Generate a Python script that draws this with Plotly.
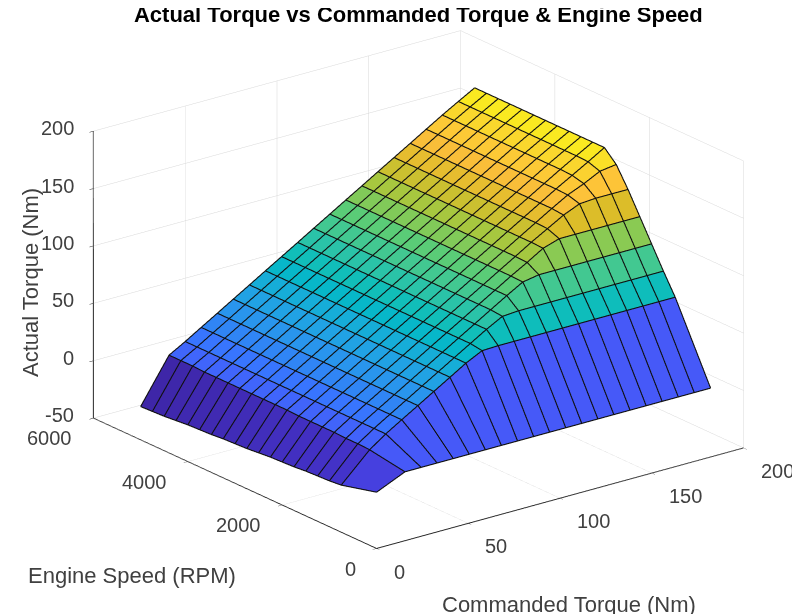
import plotly.graph_objects as go

commanded_torque = [0, 15.5, 24.3, 33, 41.8, 50.5, 59.3, 68, 76.8, 85.6, 94.3, 103.1, 111.8, 120.6, 129.3, 138.1, 146.9, 155.6, 164.4, 173.1, 182]
engine_speed = [0, 750, 1000, 1250, 1500, 1750, 2000, 2250, 2500, 2750, 3000, 3250, 3500, 3750, 4000, 4250, 4500, 4750, 5000]

actual_torque = [
    [-1, 10, 10, 10, 10, 10, 10, 10, 10, 10, 10, 10, 10, 10, 10, 10, 10, 10, 10, 10, 10],
    [-9, 15, 25, 33.5, 42, 50.5, 59, 67.5, 74.5, 75, 75, 75, 75, 75, 75, 75, 75, 75, 75, 75, 75],
    [-10, 15.5, 25, 33.5, 42, 50.5, 59, 67.5, 76, 84.5, 92, 93, 93, 93, 93, 93, 93, 93, 93, 93, 93],
    [-10.5, 15.5, 25, 33.5, 42, 50.5, 59, 67.5, 76, 84.5, 93, 101.5, 109.5, 112, 112, 112, 112, 112, 112, 112, 112],
    [-11, 16, 25, 33.5, 42, 50.5, 59, 67.5, 76, 84.5, 93, 101.5, 110, 118, 126.5, 131, 131, 131, 131, 131, 131],
    [-12, 16, 25, 33.5, 42, 50.5, 59, 67.5, 76, 84.5, 93, 101.5, 110, 118.5, 127, 135, 143, 149, 150, 150, 150],
    [-12.5, 16, 25, 33.5, 42, 50.5, 59, 67.5, 76, 84.5, 93, 101.5, 110, 118.5, 127, 135.5, 144, 152, 158, 165, 167],
    [-13, 16, 25, 33.5, 42, 50.5, 59, 67.5, 76, 84.5, 93, 101.5, 110, 118.5, 127, 135.5, 144, 152.5, 160.5, 168.5, 177],
    [-14, 16.5, 25, 33.5, 42, 50.5, 59, 67.5, 76, 84.5, 93, 101.5, 110, 118.5, 127, 135.5, 144, 152.5, 161, 169, 177],
    [-15, 16.5, 25, 33.5, 42, 50.5, 59, 67.5, 76, 84.5, 93, 101.5, 110, 118.5, 127, 135.5, 144, 152.5, 161, 169, 177],
    [-15.5, 16.5, 25, 33.5, 42, 50.5, 59, 67.5, 76, 84.5, 93, 101.5, 110, 118.5, 127, 135.5, 144, 152.5, 161, 169, 177],
    [-16, 16.5, 25, 33.5, 42, 50.5, 59, 67.5, 76, 84.5, 93, 101.5, 110, 118.5, 127, 135.5, 144, 152.5, 161, 169, 177],
    [-17, 16.5, 25, 33.5, 42, 50.5, 59, 67.5, 76, 84.5, 93, 101.5, 110, 118.5, 127, 135.5, 144, 152.5, 161, 169, 177],
    [-17.5, 16.5, 25, 33.5, 42, 50.5, 59, 67.5, 76, 84.5, 93, 101.5, 110, 118.5, 127, 135.5, 144, 152.5, 161, 169, 177],
    [-18, 16.5, 25, 33.5, 42, 50.5, 59, 67.5, 76, 84.5, 93, 101.5, 110, 118.5, 127, 135.5, 144, 152.5, 161, 169, 177],
    [-19, 16.5, 25, 33.5, 42, 50.5, 59, 67.5, 76, 84.5, 93, 101.5, 110, 118.5, 127, 135.5, 144, 152.5, 161, 169, 177],
    [-20, 17, 25, 33.5, 42, 50.5, 59, 67.5, 76, 84.5, 93, 101.5, 110, 118.5, 127, 135.5, 144, 152.5, 161, 169, 177],
    [-20.5, 17, 25, 33.5, 42, 50.5, 59, 67.5, 76, 84.5, 93, 101.5, 110, 118.5, 127, 135.5, 144, 152.5, 161, 169, 177],
    [-21, 17, 25, 33.5, 42, 50.5, 59, 67.5, 76, 84.5, 93, 101.5, 110, 118.5, 127, 135.5, 144, 152.5, 161, 169, 177],
]

x_ticks = [0, 50, 100, 150, 200]
y_ticks = [0, 2000, 4000, 6000]
z_ticks = [-50, 0, 50, 100, 150, 200]

parula = [
    (0.2422, 0.1504, 0.6603), (0.2706, 0.2147, 0.8364), (0.2795, 0.3447, 0.9717), (0.2206, 0.4603, 0.9973),
    (0.1687, 0.5703, 0.9359), (0.1113, 0.6635, 0.8763), (0.0067, 0.7312, 0.7660), (0.1717, 0.7670, 0.6554),
    (0.3406, 0.8008, 0.4789), (0.6174, 0.7876, 0.2612), (0.8634, 0.7406, 0.1596), (0.9956, 0.7434, 0.2371),
    (0.9786, 0.8422, 0.1766), (0.9769, 0.9839, 0.0805),
]
colorscale = [[i / (len(parula) - 1), "rgb(%d,%d,%d)" % tuple(round(c * 255) for c in p)] for i, p in enumerate(parula)]

view = (-0.57, -0.739, 0.3545)
zoom = 1.258
shift = (-0.045, -0.0022, -0.0775)
aspect = dict(x=1.51, y=1.51, z=1.0)

# Pushing the faces back along the sight line keeps the mesh lines from z-fighting without moving anything on screen.
depth = 0.012
push_x = -view[0] * depth * 200 / aspect["x"]
push_y = -view[1] * depth * 6000 / aspect["y"]
push_z = -view[2] * depth * 250 / aspect["z"]

nx, ny = len(commanded_torque), len(engine_speed)
vx, vy, vz = [], [], []
for j in range(ny):
    for i in range(nx):
        vx.append(commanded_torque[i] + push_x)
        vy.append(engine_speed[j] + push_y)
        vz.append(actual_torque[j][i] + push_z)

ti, tj, tk, cell_value = [], [], [], []
for j in range(ny - 1):
    for i in range(nx - 1):
        a = j * nx + i
        b = a + 1
        c = a + nx
        d = c + 1
        ti += [a, a]; tj += [b, d]; tk += [d, c]
        cell_value += [actual_torque[j][i]] * 2

all_z = [v for row in actual_torque for v in row]
fig = go.Figure()
fig.add_trace(go.Mesh3d(
    x=vx, y=vy, z=vz, i=ti, j=tj, k=tk,
    intensity=cell_value, intensitymode="cell", colorscale=colorscale,
    cmin=min(all_z), cmax=max(all_z), showscale=False, flatshading=True,
    lighting=dict(ambient=1, diffuse=0, specular=0, roughness=1, fresnel=0),
    hoverinfo="skip",
))

line_style = dict(color="#101010", width=2.2)
for j in range(ny):
    fig.add_trace(go.Scatter3d(x=commanded_torque, y=[engine_speed[j]] * nx, z=actual_torque[j], mode="lines",
                               line=line_style, hoverinfo="skip", showlegend=False))
for i in range(nx):
    fig.add_trace(go.Scatter3d(x=[commanded_torque[i]] * ny, y=engine_speed, z=[actual_torque[j][i] for j in range(ny)], mode="lines",
                               line=line_style, hoverinfo="skip", showlegend=False))

font = "Liberation Sans"
tick_color = "#404040"
tick_font = dict(family=font, size=20, color=tick_color)
axis_common = dict(
    showbackground=False, showgrid=True, gridcolor="#d8d8d8", gridwidth=1,
    showline=True, linecolor="#262626", linewidth=2,
    ticks="outside", ticklen=5, tickcolor="#262626", zeroline=False,
    showticklabels=False, showspikes=False, title=dict(text=""),
)
tick_labels = []
for v in x_ticks:
    tick_labels.append(dict(x=v, y=0, z=-50, text=str(v), showarrow=False, xanchor="left", yanchor="middle", xshift=15, yshift=-23, font=tick_font))
for v in y_ticks:
    tick_labels.append(dict(x=0, y=v, z=-50, text=str(v), showarrow=False, xanchor="right", yanchor="middle", xshift=-19, yshift=-20, font=tick_font))
for v in z_ticks:
    tick_labels.append(dict(x=0, y=6000, z=v, text=str(v), showarrow=False, xanchor="right", yanchor="middle", xshift=-17, yshift=3, font=tick_font))

fig.update_layout(
    width=800, height=614, paper_bgcolor="white", margin=dict(l=0, r=0, t=0, b=0), showlegend=False,
    title=dict(text="<b>Actual Torque vs Commanded Torque &amp; Engine Speed</b>", x=0.513, xanchor="center", y=0.99, yanchor="middle",
               font=dict(family=font, size=22, color="#000000")),
    scene=dict(
        domain=dict(x=[0, 1], y=[0, 1]),
        xaxis=dict(range=[0, 200], tickvals=x_ticks, **axis_common),
        yaxis=dict(range=[0, 6000], tickvals=y_ticks, **axis_common),
        zaxis=dict(range=[-50, 200], tickvals=z_ticks, **axis_common),
        aspectmode="manual", aspectratio=aspect,
        camera=dict(projection=dict(type="orthographic"),
                    eye=dict(x=view[0] * zoom + shift[0], y=view[1] * zoom + shift[1], z=view[2] * zoom + shift[2]),
                    up=dict(x=0, y=0, z=1), center=dict(x=shift[0], y=shift[1], z=shift[2])),
        bgcolor="white",
        annotations=tick_labels,
    ),
    annotations=[
        dict(text="Actual Torque (Nm)", x=22 / 800, y=1 - 275 / 614, xref="paper", yref="paper", xanchor="center", yanchor="middle", showarrow=False, textangle=-90, font=dict(family=font, size=22, color=tick_color)),
        dict(text="Engine Speed (RPM)", x=124 / 800, y=1 - 567 / 614, xref="paper", yref="paper", xanchor="center", yanchor="middle", showarrow=False, font=dict(family=font, size=22, color=tick_color)),
        dict(text="Commanded Torque (Nm)", x=561 / 800, y=1 - 596 / 614, xref="paper", yref="paper", xanchor="center", yanchor="middle", showarrow=False, font=dict(family=font, size=22, color=tick_color)),
    ],
)
fig.write_html("out.html")
